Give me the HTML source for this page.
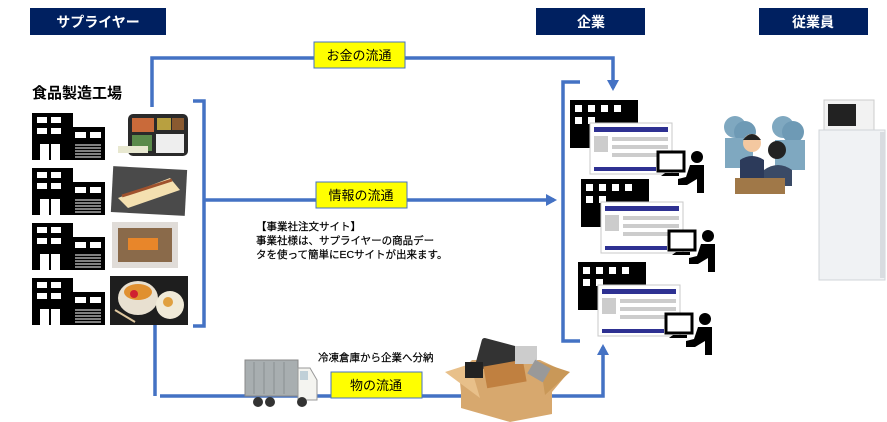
<!DOCTYPE html>
<html><head><meta charset="utf-8"><style>
body{margin:0;background:#fff;}
svg{display:block;font-family:"Liberation Sans","Noto Sans CJK JP",sans-serif;}
</style></head><body>
<svg width="887" height="422" viewBox="0 0 887 422" xmlns="http://www.w3.org/2000/svg">
<defs>
<marker id="ah" markerWidth="12" markerHeight="12" refX="8" refY="6" orient="auto" markerUnits="userSpaceOnUse"><path d="M0,0 L11,6 L0,12 z" fill="#4472c4"/></marker>
<g id="fac">
<path d="M0,0 H41 V14 H73 V47 H0 z" fill="#000"/>
<rect x="5" y="4" width="10" height="6" fill="#fff"/><rect x="19" y="4" width="10" height="6" fill="#fff"/>
<rect x="5" y="15" width="10" height="6" fill="#fff"/><rect x="19" y="15" width="10" height="6" fill="#fff"/>
<rect x="43" y="19" width="11" height="6" fill="#fff"/><rect x="58" y="19" width="11" height="6" fill="#fff"/>
<rect x="8" y="31" width="9" height="16" fill="#fff"/><rect x="19" y="31" width="9" height="16" fill="#fff"/>
<g stroke="#fff" stroke-width="1"><line x1="43" y1="32" x2="69" y2="32"/><line x1="43" y1="35" x2="69" y2="35"/><line x1="43" y1="38" x2="69" y2="38"/><line x1="43" y1="41" x2="69" y2="41"/><line x1="43" y1="44" x2="69" y2="44"/></g>
</g>
<g id="co">
<rect x="0" y="0" width="68" height="48" fill="#000"/>
<rect x="5" y="5" width="7" height="7" fill="#fff"/><rect x="18" y="5" width="7" height="7" fill="#fff"/><rect x="31" y="5" width="7" height="7" fill="#fff"/><rect x="44" y="5" width="7" height="7" fill="#fff"/>
<rect x="5" y="17" width="7" height="7" fill="#fff"/><rect x="18" y="17" width="7" height="7" fill="#fff"/>
<rect x="20" y="23" width="82" height="51" fill="#fff" stroke="#c8c8c8"/>
<rect x="24" y="27" width="74" height="5" fill="#2e3192"/>
<rect x="24" y="36" width="14" height="16" fill="#ccc"/>
<rect x="42" y="37" width="56" height="4" fill="#ccc"/><rect x="42" y="45" width="56" height="4" fill="#ccc"/><rect x="42" y="53" width="50" height="4" fill="#ccc"/>
<rect x="24" y="67" width="62" height="4" fill="#2e3192"/>
<rect x="88" y="52" width="26" height="19" fill="#fff" stroke="#000" stroke-width="3"/>
<path d="M95,73 h14 v3 h-18 z" fill="#000"/>
<circle cx="127" cy="57" r="6" fill="#000"/>
<path d="M120,65 h14 v28 h-7 v-14 l-10,6 h-9 v-6 l8,-2 z" fill="#000"/>
</g>
</defs>

<rect x="30" y="8" width="136" height="27" fill="#002060"/>
<text x="98" y="27" font-size="14" font-weight="bold" fill="#fff" text-anchor="middle">サプライヤー</text>
<rect x="536" y="8" width="109" height="27" fill="#002060"/>
<text x="591" y="27" font-size="14" font-weight="bold" fill="#fff" text-anchor="middle">企業</text>
<rect x="759" y="8" width="109" height="27" fill="#002060"/>
<text x="813" y="27" font-size="14" font-weight="bold" fill="#fff" text-anchor="middle">従業員</text>

<g stroke="#4472c4" stroke-width="3.5" fill="none">
<polyline points="152,107 152,58 613,58 613,88" marker-end="url(#ah)"/>
<polyline points="193,101 204,101 204,326 193,326"/>
<line x1="204" y1="200" x2="554" y2="200" marker-end="url(#ah)"/>
<polyline points="580,82 563,82 563,341 580,341"/>
<polyline points="155,325 155,396"/>
<polyline points="160,396 603,396 603,347" marker-end="url(#ah)"/>
</g>

<rect x="314" y="42" width="91" height="26" fill="#ff0" stroke="#4472c4"/>
<text x="359" y="60" font-size="13" text-anchor="middle">お金の流通</text>
<rect x="316" y="182" width="91" height="26" fill="#ff0" stroke="#4472c4"/>
<text x="361" y="200" font-size="13" text-anchor="middle">情報の流通</text>
<rect x="331" y="372" width="91" height="26" fill="#ff0" stroke="#4472c4"/>
<text x="376" y="390" font-size="13" text-anchor="middle">物の流通</text>

<text x="32" y="98" font-size="15" font-weight="bold">食品製造工場</text>
<text font-size="10.5" stroke="#000" stroke-width="0.2"><tspan x="256" y="230">【事業社注文サイト】</tspan><tspan x="256" y="244">事業社様は、サプライヤーの商品デー</tspan><tspan x="256" y="258">タを使って簡単にECサイトが出来ます。</tspan></text>
<text x="318" y="361" font-size="10.5" stroke="#000" stroke-width="0.2">冷凍倉庫から企業へ分納</text>

<use href="#fac" x="32" y="113"/><use href="#fac" x="32" y="168"/><use href="#fac" x="32" y="223"/><use href="#fac" x="32" y="278"/>
<rect x="128" y="114" width="60" height="42" rx="5" fill="#2a2a2a"/>
<rect x="132" y="118" width="22" height="14" fill="#c96a3a"/><rect x="157" y="118" width="14" height="12" fill="#b8a040"/><rect x="172" y="118" width="12" height="12" fill="#8a5a30"/>
<rect x="132" y="135" width="20" height="16" fill="#5a8a4a"/><rect x="156" y="134" width="28" height="19" fill="#eee"/>
<rect x="118" y="146" width="30" height="7" fill="#e8e8d0"/>
<rect x="112" y="168" width="74" height="46" fill="#4a4a4a" transform="rotate(3 149 191)"/>
<path d="M118,198 L170,178 L180,190 L128,208 z" fill="#f4e0b0"/><path d="M122,196 L172,180" stroke="#a0522d" stroke-width="3"/>
<rect x="112" y="222" width="66" height="46" fill="#e0dcd8"/>
<rect x="118" y="228" width="54" height="34" fill="#8a6a4a"/><rect x="128" y="238" width="30" height="12" fill="#e8862a"/>
<rect x="110" y="276" width="78" height="49" fill="#1e1e1e"/>
<ellipse cx="138" cy="298" rx="20" ry="17" fill="#e8e0d0"/><ellipse cx="138" cy="292" rx="14" ry="8" fill="#e09030"/><circle cx="134" cy="294" r="4" fill="#d02030"/>
<ellipse cx="170" cy="305" rx="14" ry="14" fill="#f0ead8"/><circle cx="168" cy="302" r="5" fill="#e0a040"/>
<line x1="115" y1="310" x2="135" y2="322" stroke="#e0c8a0" stroke-width="2"/>

<use href="#co" x="570" y="100"/><use href="#co" x="581" y="179"/><use href="#co" x="578" y="262"/>

<circle cx="735" cy="127" r="11" fill="#7fa8c0"/><circle cx="745" cy="132" r="11" fill="#6e9ab5"/>
<rect x="725" y="138" width="28" height="30" fill="#7fa8c0"/>
<circle cx="783" cy="127" r="11" fill="#7fa8c0"/><circle cx="793" cy="132" r="11" fill="#6e9ab5"/>
<rect x="775" y="140" width="30" height="30" fill="#7fa8c0"/>
<circle cx="752" cy="143" r="9" fill="#f4c8a0"/><path d="M743,140 q9,-12 18,0 z" fill="#222"/>
<path d="M740,160 q12,-8 24,0 v20 h-24 z" fill="#2c3a5a"/>
<circle cx="777" cy="150" r="9" fill="#222"/>
<path d="M764,170 q14,-10 28,0 v16 h-28 z" fill="#3a4a66"/>
<rect x="735" y="178" width="50" height="16" fill="#a07848"/>

<rect x="824" y="100" width="50" height="30" fill="#f2f2f2" stroke="#ccc"/><rect x="828" y="104" width="28" height="22" fill="#222"/>
<rect x="819" y="130" width="66" height="150" fill="#f0f2f4" stroke="#d0d4d8"/>
<rect x="880" y="132" width="5" height="146" fill="#d8dce0"/>

<rect x="245" y="360" width="53" height="36" fill="#a8aeb0" stroke="#888"/>
<g stroke="#8a9092" stroke-width="1"><line x1="254" y1="362" x2="254" y2="394"/><line x1="264" y1="362" x2="264" y2="394"/><line x1="274" y1="362" x2="274" y2="394"/><line x1="284" y1="362" x2="284" y2="394"/></g>
<path d="M298,368 h12 l7,12 v20 h-19 z" fill="#f4f4f0" stroke="#999"/>
<rect x="300" y="371" width="8" height="9" fill="#c0d0d8"/>
<circle cx="258" cy="402" r="5" fill="#333"/><circle cx="270" cy="402" r="5" fill="#333"/><circle cx="302" cy="402" r="5" fill="#333"/>

<path d="M459,373 L472,360 L540,360 L568,373 L552,392 L552,414 L510,422 L461,408 L461,392 z" fill="#d7a86e"/>
<path d="M445,372 L470,364 L480,398 z" fill="#e8c08a"/><path d="M540,362 L570,372 L545,395 z" fill="#c99858"/>
<rect x="478" y="342" width="40" height="30" rx="3" fill="#333" transform="rotate(15 498 357)"/>
<rect x="485" y="363" width="40" height="22" fill="#c08040" transform="rotate(-10 505 374)"/>
<rect x="465" y="362" width="18" height="16" fill="#222"/>
<rect x="515" y="346" width="22" height="18" fill="#ccc"/>
<rect x="530" y="363" width="18" height="16" fill="#999" transform="rotate(30 539 371)"/>
</svg>
</body></html>
